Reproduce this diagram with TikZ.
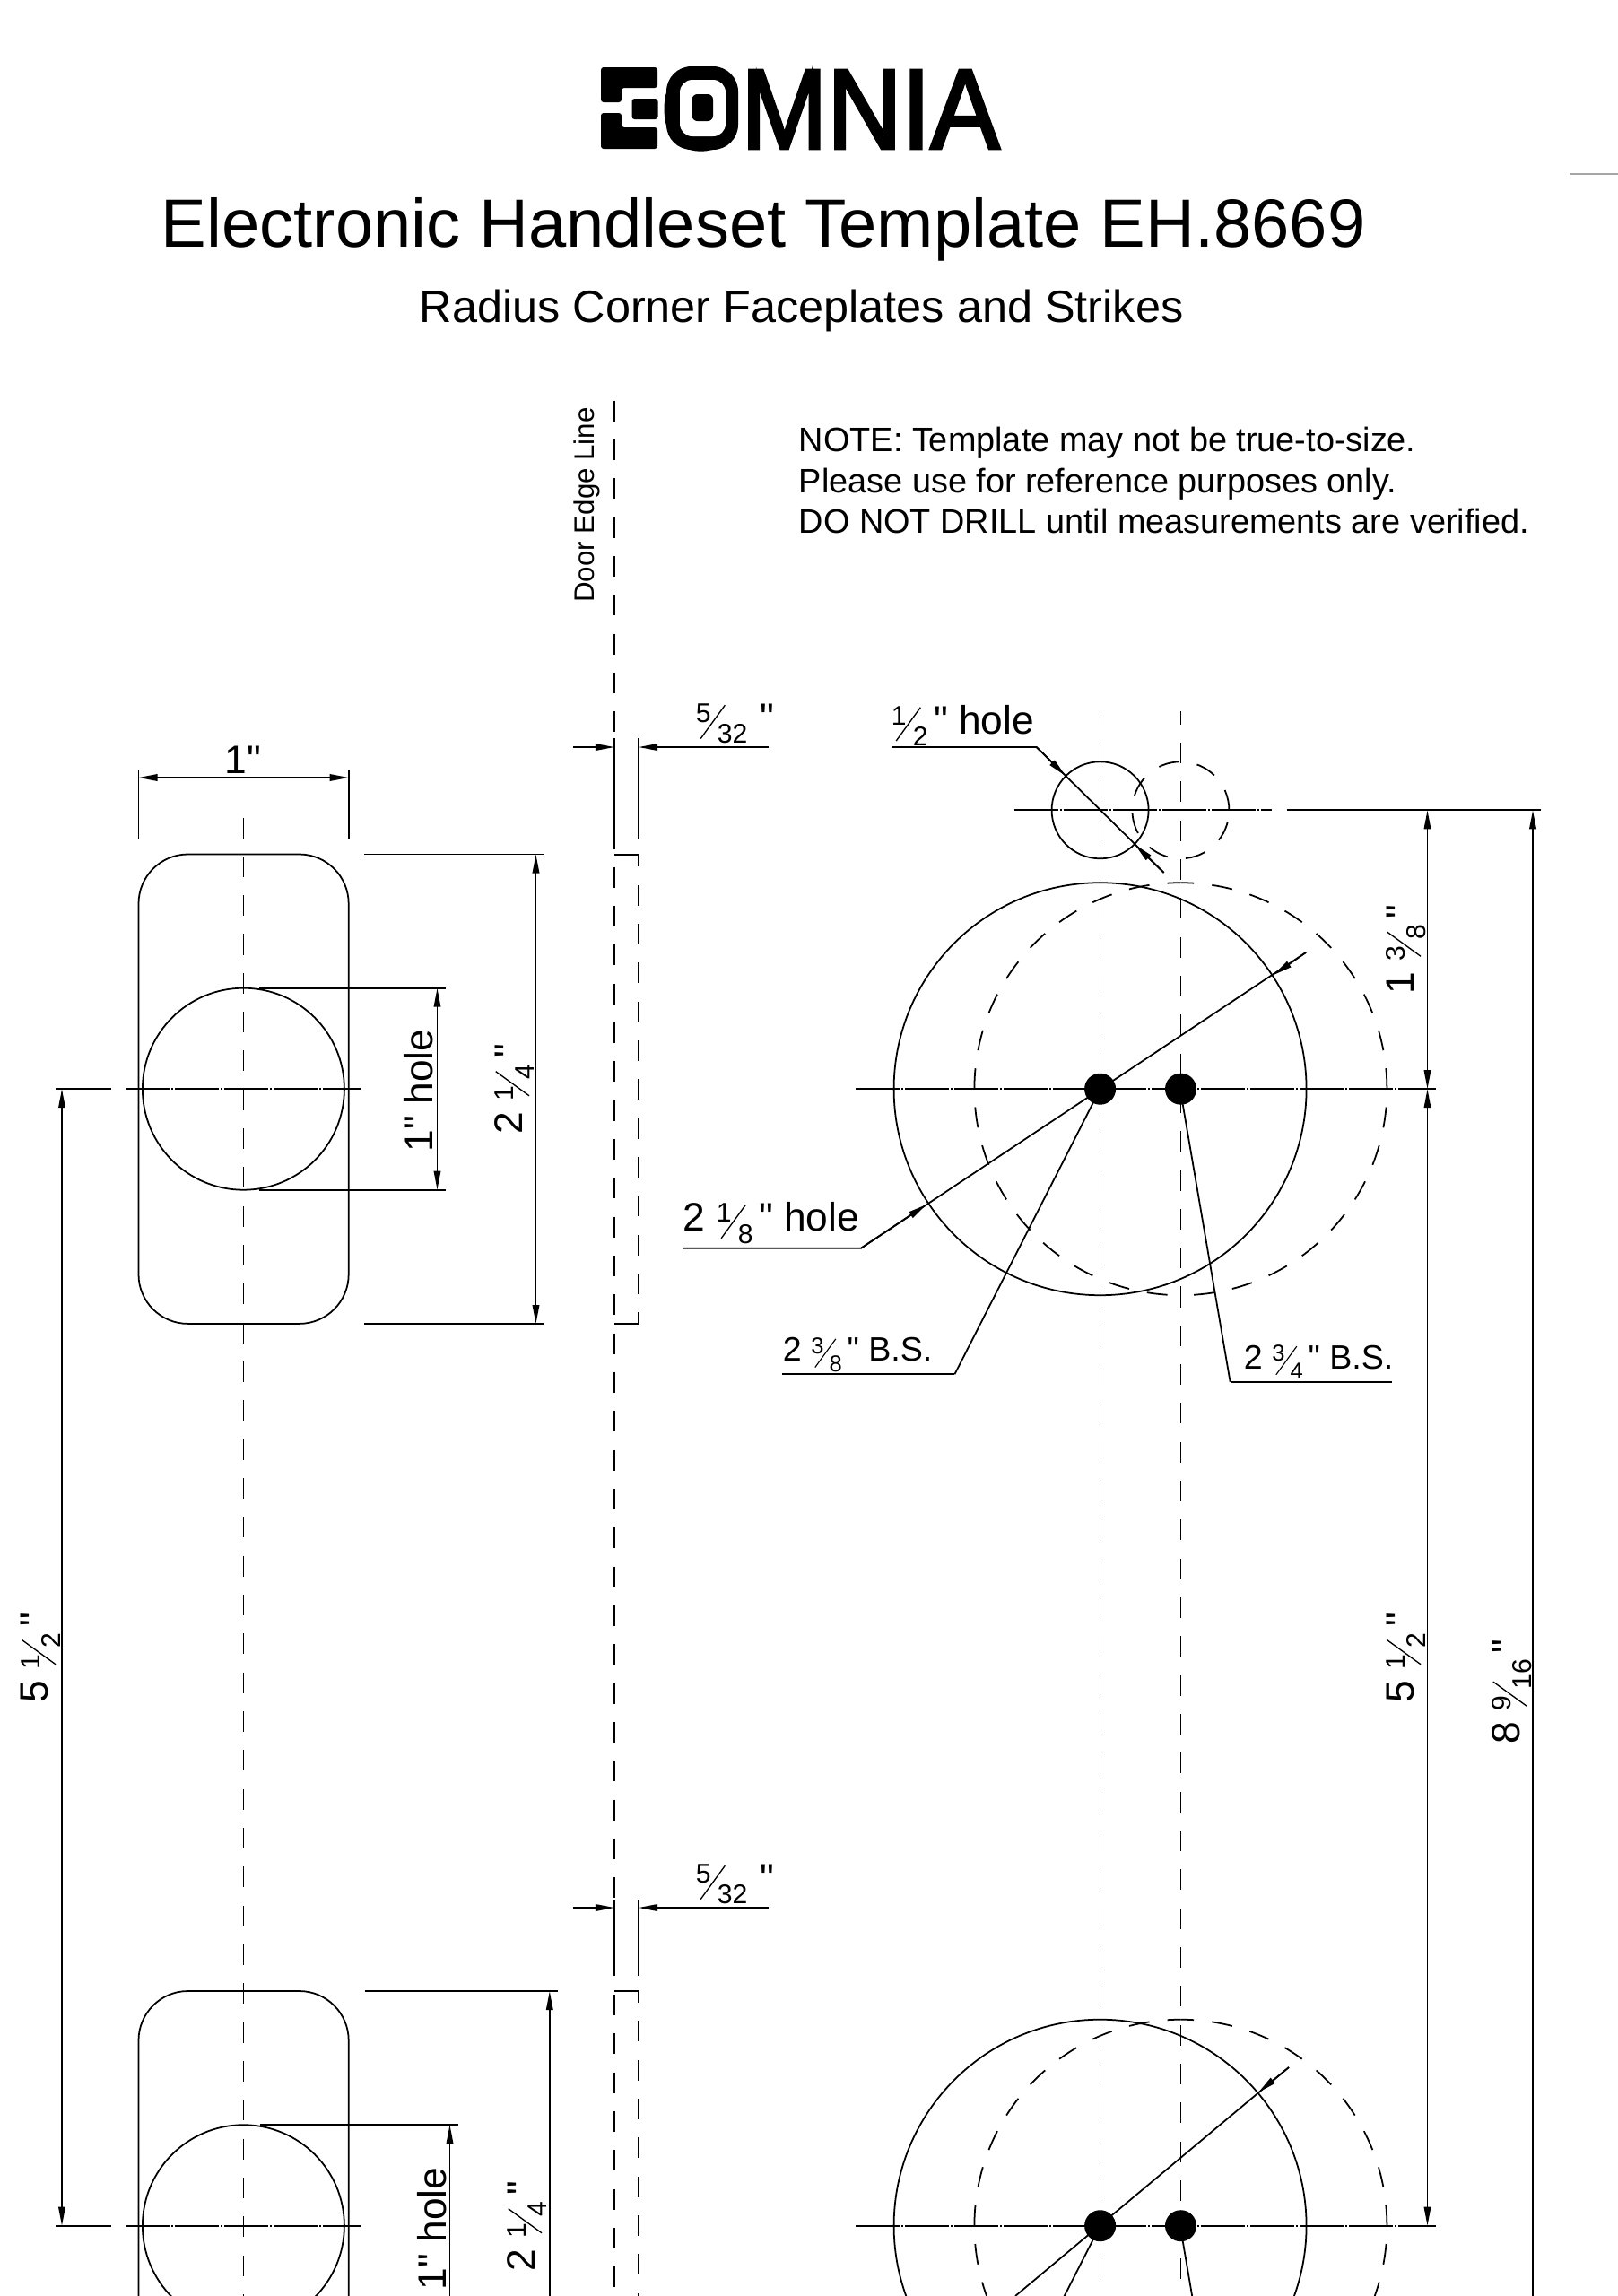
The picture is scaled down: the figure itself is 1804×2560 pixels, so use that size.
\documentclass[tikz,border=0pt]{standalone}
\usepackage{fontspec}
\setmainfont{Liberation Sans}
\newfontfamily\logofont[FakeBold=3]{Liberation Sans}
\newfontfamily\dimfont{Liberation Sans}
\usetikzlibrary{arrows.meta}

\newcommand{\stackfrac}[2]{\raisebox{.22em}{\scalebox{.68}{#1}}\kern-.27em\raisebox{-.19em}{\rotatebox{54}{\rule{1.04em}{.03em}}}\kern-.2em\raisebox{-.3em}{\scalebox{.68}{#2}}\kern-.13em\relax}

\tikzset{
    dashline/.style={dash pattern=on 0.23cm off 0.203cm},
    centerline/.style={dash pattern=on 0.49cm off 0.02cm on 0.02cm off 0.02cm},
    tipline/.style={-{Triangle[length=0.21cm,width=0.075cm]}},
    dimline/.style={{Triangle[length=0.21cm,width=0.075cm]}-{Triangle[length=0.21cm,width=0.075cm]}},
    dimtext/.style={font=\dimfont\fontsize{12.6}{15}\selectfont},
    bstext/.style={font=\dimfont\fontsize{10.7}{13}\selectfont}
}

\begin{document}
\begin{tikzpicture}[x=0.01cm,y=-0.01cm,line width=0.5pt]
    \path[use as bounding box,clip] (0,0) rectangle (1804,2560);
    \fill[white] (0,0) rectangle (1804,2560);

%Kopf
    %Logo
    \draw (736,165.5) node (logotext)
        [anchor=base west,inner sep=0pt,xscale=0.91]
        {\logofont\fontsize{36}{36}\selectfont OMNIA};
    \fill[rounded corners=0.03cm] (670,75) -- (733,75) -- (733,98) -- (693,98)
        -- (693,114) -- (670,114) -- cycle;
    \fill[rounded corners=0.03cm] (670,126) -- (693,126) -- (693,142) -- (733,142)
        -- (733,166) -- (670,166) -- cycle;
    \fill[rounded corners=0.03cm] (704.5,110) rectangle (733.5,133);
    \fill[black,rounded corners=0.28cm] (743,74) rectangle (823,167);
    \fill[white,rounded corners=0.14cm] (758,89) rectangle (809,152);
    \fill[black,rounded corners=0.06cm] (771.5,105) rectangle (795,135);

    %Titel
    \draw (179,275) node (title)
        [anchor=base west,inner sep=0pt]
        {\fontsize{21.6}{24}\selectfont Electronic Handleset Template EH.8669};
    \draw (467,359) node (subtitle)
        [anchor=base west,inner sep=0pt]
        {\fontsize{14.33}{17}\selectfont Radius Corner Faceplates and Strikes};
    \draw[gray!70] (1750,194) -- (1804,194);

    %Hinweis
    \draw (890,503) node (note1)
        [anchor=base west,inner sep=0pt]
        {\fontsize{10.76}{13}\selectfont NOTE: Template may not be true-to-size.};
    \draw (890,549) node (note2)
        [anchor=base west,inner sep=0pt]
        {\fontsize{10.76}{13}\selectfont Please use for reference purposes only.};
    \draw (890,594) node (note3)
        [anchor=base west,inner sep=0pt]
        {\fontsize{10.76}{13}\selectfont DO NOT DRILL until measurements are verified.};

%Stulp links
    %Platten
    \foreach \cy in {1214.2,2481.7}{
        \draw[rounded corners=0.55cm] (154.5,\cy-261.7) rectangle (388.7,\cy+261.7);
        \draw (271.4,\cy) circle (112.5);
        \draw (62,\cy) -- (124,\cy);
        \draw[centerline] (140,\cy) -- (403,\cy);
    }
    \draw[dashline] (271.4,911.5) -- (271.4,2560);

    %Masse oben
    \draw (154.5,858) -- (154.5,935);
    \draw (388.7,858) -- (388.7,935);
    \draw[dimline] (154.5,867) -- (388.7,867);
    \draw (271,862) node (widthlabel)
        [anchor=base,inner sep=0pt,dimtext]
        {1"};
    \draw (406,952.5) -- (607,952.5);
    \draw (406,1476) -- (607,1476);
    \draw[dimline] (597.5,952.5) -- (597.5,1476);
    \draw (582,1214) node (plateupper)
        [rotate=90,anchor=base,inner sep=0pt,dimtext]
        {2 \stackfrac{1}{4} "};
    \draw (289,1101.7) -- (497,1101.7);
    \draw (289,1326.7) -- (497,1326.7);
    \draw[dimline] (487.5,1101.7) -- (487.5,1326.7);
    \draw (482,1216) node (holeupper)
        [rotate=90,anchor=base,inner sep=0pt,dimtext]
        {1" hole};

    %Masse unten
    \draw (406.6,2220) -- (622,2220);
    \draw[tipline] (612.8,2560) -- (612.8,2220);
    \draw (596,2482) node (platelower)
        [rotate=90,anchor=base,inner sep=0pt,dimtext]
        {2 \stackfrac{1}{4} "};
    \draw (290,2369) -- (511,2369);
    \draw[tipline] (501.5,2560) -- (501.5,2369);
    \draw (497,2485) node (holelower)
        [rotate=90,anchor=base,inner sep=0pt,dimtext]
        {1" hole};
    \draw[dimline] (69,1214.2) -- (69,2481.7);
    \draw (54,1848) node (distleft)
        [rotate=90,anchor=base,inner sep=0pt,dimtext]
        {5 \stackfrac{1}{2} "};

%Tuerkante
    \draw[dashline] (685,446.7) -- (685,823);
    \draw (685,823) -- (685,947);
    \draw[dashline] (685,966.7) -- (685,2118);
    \draw (685,2118) -- (685,2203);
    \draw[dashline] (685,2224) -- (685,2560);
    \draw (712,823) -- (712,935);
    \draw (712,2118) -- (712,2203);
    \draw (685,952.7) -- (712,952.7);
    \draw (685,1476) -- (712,1476);
    \draw (685,2220) -- (712,2220);
    \draw[dashline,dash phase=0.093cm] (712,952.7) -- (712,1476);
    \draw[dashline,dash phase=0.1cm] (712,2220) -- (712,2560);
    \draw (662,563) node (edgelabel)
        [rotate=90,anchor=base,inner sep=0pt]
        {\fontsize{8.9}{11}\selectfont Door Edge Line};
    \foreach \dy/\n in {833/a,2127/b}{
        \draw[tipline] (639,\dy) -- (685,\dy);
        \draw[tipline] (857,\dy) -- (712,\dy);
        \draw (775,\dy-17.5) node (thick\n)
            [anchor=base west,inner sep=0pt,dimtext]
            {\stackfrac{5}{32}\kern.45em "};
    }

%Bohrungen rechts
    %Mittellinien
    \draw[dashline,dash phase=0.084cm] (1226.6,793) -- (1226.6,2560);
    \draw[dashline,dash phase=0.084cm] (1316.4,793) -- (1316.4,2560);
    \draw (1226.6,903.3) circle (54);
    \draw[dashline] (1316.4+54,903.3) arc [start angle=0,end angle=-360,radius=54];
    \draw[centerline,line width=0.6pt] (1131,903.3) -- (1418,903.3);
    \draw (1435,903.3) -- (1718,903.3);

    %Kreise
    \foreach \cy in {1214.2,2481.7}{
        \draw (1226.6,\cy) circle (230);
        \draw[dashline] (1316.4+230,\cy) arc [start angle=0,end angle=-90,radius=230];
        \draw[dashline] (1316.4-230,\cy) arc [start angle=180,end angle=270,radius=230];
        \draw[dashline,dash phase=0.23cm] (1316.4+230,\cy) arc [start angle=0,end angle=90,radius=230];
        \draw[dashline,dash phase=0.23cm] (1316.4-230,\cy) arc [start angle=180,end angle=90,radius=230];
        \draw[centerline,line width=0.7pt] (954,\cy) -- (1601,\cy);
        \fill (1226.6,\cy) circle (17.5);
        \fill (1316.5,\cy) circle (17.5);
        \draw (1226.6,\cy) -- (1064.4,\cy+318.1);
        \draw (1318.7,\cy+17) -- (1371.6,\cy+326.5);
    }

    %Hinweislinien
    \draw (994,833) -- (1155.7,833) -- (1297.6,973);
    \draw[tipline] (1155.7,833) -- (1188,865);
    \draw[tipline] (1297.6,973) -- (1265.4,941.7);
    \draw (993,818) node (smallhole)
        [anchor=base west,inner sep=0pt,dimtext]
        {\stackfrac{1}{2} " hole};
    \draw (761,1391.7) -- (960,1391.7) -- (1456,1062);
    \draw[tipline] (960,1391.7) -- (1033,1343);
    \draw[tipline] (1456,1062) -- (1420,1087);
    \draw (761,1372.7) node (largehole)
        [anchor=base west,inner sep=0pt,dimtext]
        {2 \stackfrac{1}{8} " hole};
    \draw (1437,2305) -- (1132,2560);
    \draw[tipline] (1437,2305) -- (1403,2333);
    \draw (872,1532.3) -- (1064.4,1532.3);
    \draw (872,1517.7) node (backleft)
        [anchor=base west,inner sep=0pt,bstext]
        {2 \stackfrac{3}{8} " B.S.};
    \draw (1371.6,1540.7) -- (1552.4,1540.7);
    \draw (1386,1526) node (backright)
        [anchor=base west,inner sep=0pt,bstext]
        {2 \stackfrac{3}{4} " B.S.};

    %Masse rechts
    \draw[dimline] (1591.5,903.3) -- (1591.5,1214.2);
    \draw[dimline] (1591.5,1214.2) -- (1591.5,2481.7);
    \draw[tipline,line width=0.6pt] (1709,2560) -- (1709,903.3);
    \draw (1576,1058.5) node (disttop)
        [rotate=90,anchor=base,inner sep=0pt,dimtext]
        {1 \stackfrac{3}{8} "};
    \draw (1576,1848) node (distright)
        [rotate=90,anchor=base,inner sep=0pt,dimtext]
        {5 \stackfrac{1}{2} "};
    \draw (1694,1886) node (disttotal)
        [rotate=90,anchor=base,inner sep=0pt,dimtext]
        {8 \stackfrac{9}{16} "};

\end{tikzpicture}
\end{document}
